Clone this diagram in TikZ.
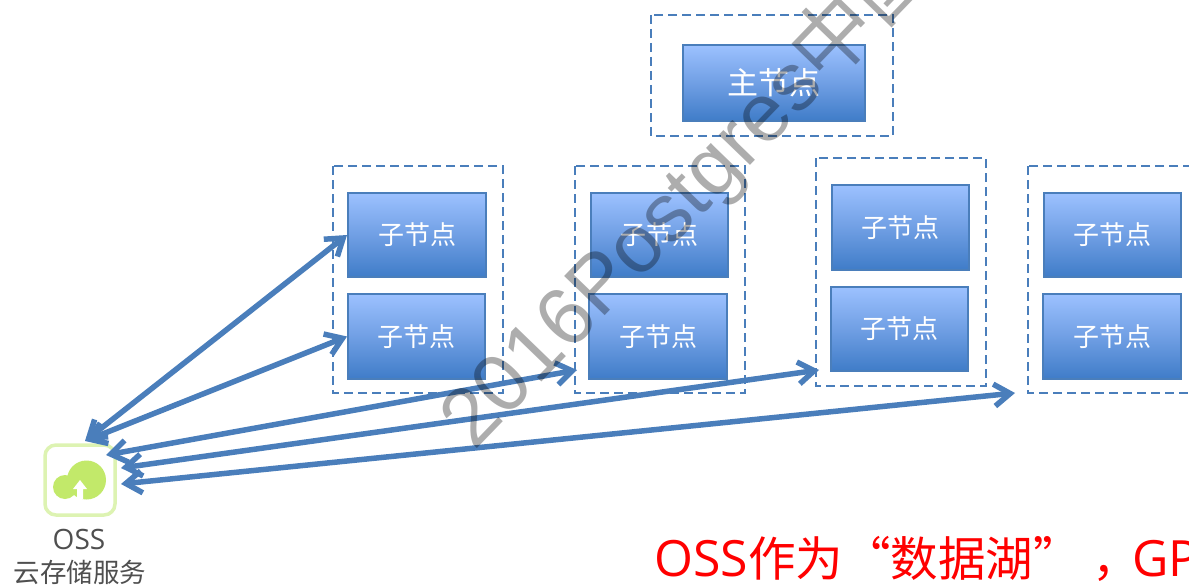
\documentclass[tikz,border=0pt]{standalone}
\usepackage{fontspec}
\usetikzlibrary{arrows.meta,calc}
\setmainfont{Liberation Sans}
\newfontfamily\cjk{Noto Sans CJK SC}
\newfontfamily\ossfont{Open Sans}
\definecolor{linkblue}{HTML}{4A7EBB}
\definecolor{boxtop}{HTML}{9CC1FF}
\definecolor{boxmid}{HTML}{709FE4}
\definecolor{boxbot}{HTML}{3F7CC8}
\definecolor{iconline}{HTML}{DDF3B2}
\definecolor{iconfill}{HTML}{C2E96A}
\definecolor{osstext}{HTML}{4F4F4F}
\tikzset{
  x=1pt,y=-1pt,
  box/.style={rectangle,draw=linkblue,line width=2pt,top color=boxtop,bottom color=boxbot,middle color=boxmid,text=white,font=\cjk\fontsize{26}{30}\selectfont,inner sep=0pt},
  groupbox/.style={draw=linkblue,line width=2.6pt,dash pattern=on 9pt off 5pt},
  link/.style={draw=linkblue,line width=5.5pt,{Straight Barb[length=16pt,width=22pt,line width=5.5pt]}-{Straight Barb[length=16pt,width=22pt,line width=5.5pt]}},
}
\newcommand{\childbox}[5]{\pgfmathsetmacro{\bw}{#4-#2}\pgfmathsetmacro{\bh}{#5-#3}\node[box,minimum width=\bw pt,minimum height=\bh pt] (#1) at ({(#2+#4)/2},{(#3+#5)/2}) {子节点};}
\begin{document}
\begin{tikzpicture}
\useasboundingbox (0,0) rectangle (1189,586);
\clip (0,0) rectangle (1189,586);
% groups
\draw[groupbox] (651,15) rectangle (893,136);
\draw[groupbox] (333,166) rectangle (503,393);
\draw[groupbox] (575,166) rectangle (745,393);
\draw[groupbox] (816,158) rectangle (986,386);
\draw[groupbox] (1028,166) rectangle (1198,393);
% main
\node[box,minimum width=182pt,minimum height=76pt,font=\cjk\fontsize{31}{34}\selectfont] (mainnode) at (774,83) {主节点};
\childbox{ca}{348}{193}{486}{277}
\childbox{cb}{348}{294}{485}{379}
\childbox{cc}{591}{193}{728}{277}
\childbox{cd}{589}{294}{727}{379}
\childbox{ce}{832}{185}{969}{270}
\childbox{cf}{831}{287}{968}{371}
\childbox{cg}{1044}{193}{1181}{277}
\childbox{ch}{1043}{294}{1181}{379}
% icon
\draw[draw=iconline,line width=3.5pt,rounded corners=11pt,fill=white] (45,445) rectangle (115,515);
\node[minimum size=70pt,inner sep=0pt] (oss) at (80,480) {};
\fill[iconfill] (86.5,480) circle (19.5);
\fill[iconfill] (65,487) circle (12);
\fill[white] (80,480) -- (87,489) -- (83,489) -- (83,499) -- (77,499) -- (77,489) -- (73,489) -- cycle;
\node[text=osstext,font=\ossfont\fontsize{28}{30}\selectfont,inner sep=0pt] (osslabel) at (79,539) {OSS};
\node[text=osstext,font=\cjk\fontsize{26.5}{28}\selectfont,inner sep=0pt] (osscaption) at (80,572) {云存储服务};
% link ends
\coordinate (ossa) at (85,441);
\coordinate (ossb) at (106,455);
\coordinate (ossc) at (121,468);
\coordinate (ossd) at (121,484);
\coordinate (gb) at (577,370);
\coordinate (gc) at (819,370);
\coordinate (gd) at (1015,393);
\draw[link] (ossa) -- (ca.west);
\draw[link] (ossa) -- (cb.west);
\draw[link] (ossb) -- (gb);
\draw[link] (ossc) -- (gc);
\draw[link] (ossd) -- (gd);
% red text
\node[anchor=base west,text=red,inner sep=0pt,font=\ossfont\fontsize{50}{52}\selectfont] (claim) at (654,576) {OSS{\cjk\fontsize{47.5}{52}\selectfont 作为“数据湖”\hspace{12pt}，\hspace{-8pt}}GP};
% watermark
\node[anchor=base west,rotate=46,inner sep=0pt,text=black,opacity=0.32,font=\fontsize{82}{84}\selectfont] (mark) at (474,452) {2016Postgres{\cjk 中国}};
\end{tikzpicture}
\end{document}
